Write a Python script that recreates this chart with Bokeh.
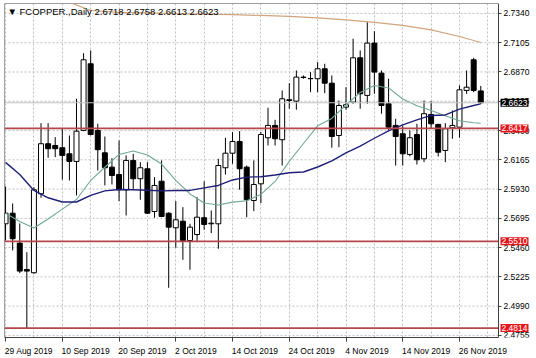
from bokeh.plotting import figure
from bokeh.models import (Range1d, FixedTicker, Label, Span, ColumnDataSource,
                          PrintfTickFormatter, LinearAxis)
from bokeh.embed import file_html
from bokeh.resources import INLINE

# ---------------- data ----------------
header_text = "\u25BC FCOPPER.,Daily  2.6718 2.6758 2.6613 2.6623"

date_labels = ["29 Aug 2019", "10 Sep 2019", "20 Sep 2019", "2 Oct 2019", "14 Oct 2019",
               "24 Oct 2019", "4 Nov 2019", "14 Nov 2019", "26 Nov 2019"]
date_label_bars = [0, 8, 16, 24, 32, 40, 48, 56, 64]

opens = [2.5651, 2.5736, 2.5496, 2.5284, 2.5258, 2.5892, 2.6294, 2.6280, 2.6262, 2.6213,
         2.6152, 2.6401, 2.6936, 2.6401, 2.6221, 2.6106, 2.6047, 2.5924, 2.6160, 2.6013,
         2.6093, 2.5750, 2.5993, 2.5736, 2.5619, 2.5672, 2.5517, 2.5565, 2.5700, 2.5651,
         2.5651, 2.6101, 2.6218, 2.6312, 2.6106, 2.5838, 2.5972, 2.6342, 2.6441, 2.6326,
         2.6647, 2.6636, 2.6829, 2.6816, 2.6816, 2.6896, 2.6780, 2.6360, 2.6588, 2.6628,
         2.6984, 2.6682, 2.7102, 2.6861, 2.6615, 2.6441, 2.6374, 2.6208, 2.6368, 2.6173,
         2.6529, 2.6449, 2.6240, 2.6422, 2.6427, 2.6722, 2.6968, 2.6718]
highs = [2.5951, 2.5814, 2.5654, 2.5423, 2.5945, 2.6459, 2.6459, 2.6347, 2.6414, 2.6360,
         2.6655, 2.7021, 2.7043, 2.6454, 2.6352, 2.6178, 2.6320, 2.6200, 2.6213, 2.6146,
         2.6146, 2.6026, 2.6160, 2.5744, 2.5833, 2.5785, 2.5651, 2.5865, 2.5993, 2.5758,
         2.6173, 2.6342, 2.6387, 2.6395, 2.6119, 2.6160, 2.6387, 2.6583, 2.6486, 2.6722,
         2.6780, 2.6882, 2.6842, 2.6869, 2.6949, 2.6936, 2.6842, 2.6641, 2.6748, 2.7137,
         2.7043, 2.7270, 2.7198, 2.6882, 2.6816, 2.6494, 2.6441, 2.6401, 2.6454, 2.6641,
         2.6636, 2.6454, 2.6459, 2.6561, 2.6762, 2.6882, 2.6984, 2.6758]
lows = [2.5517, 2.5437, 2.5255, 2.4814, 2.5250, 2.5860, 2.6181, 2.6186, 2.6005, 2.5999,
        2.5879, 2.6395, 2.6360, 2.6079, 2.5959, 2.5967, 2.5833, 2.5718, 2.5932, 2.5844,
        2.5732, 2.5700, 2.5704, 2.5137, 2.5459, 2.5362, 2.5282, 2.5504, 2.5603, 2.5576,
        2.5451, 2.6047, 2.6133, 2.5924, 2.5704, 2.5753, 2.5817, 2.6280, 2.6280, 2.6119,
        2.6575, 2.6567, 2.6816, 2.6708, 2.6708, 2.6700, 2.6262, 2.6266, 2.6567, 2.6615,
        2.6575, 2.6615, 2.6695, 2.6535, 2.6401, 2.6119, 2.6119, 2.6192, 2.6127, 2.6146,
        2.6414, 2.6192, 2.6146, 2.6334, 2.6342, 2.6695, 2.6708, 2.6613]
closes = [2.5736, 2.5531, 2.5271, 2.5271, 2.5924, 2.6294, 2.6254, 2.6254, 2.6200, 2.6152,
          2.6395, 2.6968, 2.6368, 2.6246, 2.6101, 2.6039, 2.5924, 2.6160, 2.6013, 2.6101,
          2.5736, 2.5959, 2.5710, 2.5624, 2.5683, 2.5517, 2.5624, 2.5704, 2.5646, 2.5656,
          2.6119, 2.6218, 2.6312, 2.6093, 2.5844, 2.5967, 2.6368, 2.6441, 2.6334, 2.6655,
          2.6641, 2.6829, 2.6826, 2.6818, 2.6896, 2.6780, 2.6352, 2.6601, 2.6607, 2.6984,
          2.6695, 2.7102, 2.6869, 2.6601, 2.6427, 2.6352, 2.6213, 2.6342, 2.6165, 2.6535,
          2.6454, 2.6226, 2.6414, 2.6441, 2.6727, 2.6748, 2.6722, 2.6623]

ma_fast_bars = [0, 2, 4, 6, 8, 10, 12, 14, 16, 18, 20, 22, 24, 26, 28, 30, 32, 34,
                36, 38, 40, 42, 44, 46, 48, 50, 52, 54, 56, 58, 60, 62, 64, 66, 67]
ma_fast = [2.5736, 2.5670, 2.5618, 2.5690, 2.5769, 2.5846, 2.5999, 2.6105, 2.6208, 2.6236,
           2.6204, 2.6131, 2.5999, 2.5891, 2.5818, 2.5802, 2.5825, 2.5836, 2.5887, 2.5991,
           2.6152, 2.6296, 2.6438, 2.6497, 2.6605, 2.6706, 2.6762, 2.6742, 2.6653, 2.6599,
           2.6561, 2.6519, 2.6478, 2.6462, 2.6459]
ma_mid_bars = ma_fast_bars
ma_mid = [2.6144, 2.6047, 2.5919, 2.5860, 2.5826, 2.5826, 2.5879, 2.5915, 2.5927, 2.5924,
          2.5920, 2.5915, 2.5919, 2.5919, 2.5939, 2.5959, 2.6003, 2.6026, 2.6029, 2.6043,
          2.6061, 2.6067, 2.6107, 2.6156, 2.6221, 2.6274, 2.6338, 2.6398, 2.6445, 2.6485,
          2.6521, 2.6525, 2.6572, 2.6601, 2.6614]
ma_slow_bars = [0, 4, 8, 12, 16, 20, 24, 28, 32, 36, 40, 44, 48, 52, 56, 60, 64, 67]
ma_slow = [2.7565, 2.7509, 2.7452, 2.7364, 2.7348, 2.7344, 2.7338, 2.7334, 2.7330, 2.7324,
           2.7316, 2.7304, 2.7288, 2.7268, 2.7244, 2.7208, 2.7155, 2.7107]

price_ticks = [2.7340, 2.7105, 2.6870, 2.6635, 2.6400, 2.6165, 2.5930, 2.5695,
               2.5460, 2.5225, 2.4990, 2.4755]
level_lines = [2.6417, 2.5510, 2.4814]
last_price = 2.6623

# ---------------- layout ----------------
W, H = 536, 358
FL, FT, FR, FB = 4, 3, 498, 337          # chart box edges in canvas pixels
X0, XR = -0.15, 69.5                     # bar range shown inside the chart box
Y0, Y1 = 2.4738, 2.7420
px_per_bar = (FR - FL) / (XR - X0)
px_per_price = (FB - FT) / (Y1 - Y0)
XE = X0 + (W - FL) / px_per_bar          # frame runs on to the canvas edge (price scale strip)
FONT = "Liberation Sans"
FS = "8.5px"
GRID = "#c0c0c0"
FRAME = "#404040"


def cx(px):
    return X0 + (px - FL) / px_per_bar


def cy(py):
    return Y1 - (py - FT) / px_per_price


p = figure(width=W, height=H, x_range=Range1d(X0, XE), y_range=Range1d(Y0, Y1),
           output_backend="svg", toolbar_location=None, y_axis_location=None,
           min_border_left=FL, min_border_top=FT, min_border_right=0,
           min_border_bottom=H - FB)
p.background_fill_color = "white"
p.border_fill_color = "white"
p.outline_line_color = None

# grids: vertical via Grid, horizontal as dashed segments ending at the chart box
p.xgrid.ticker = FixedTicker(ticks=list(range(0, 69, 4)))
p.xgrid.grid_line_color = GRID
p.xgrid.grid_line_dash = "2 2"
p.ygrid.visible = False
p.segment(x0=[X0] * len(price_ticks), x1=[XR] * len(price_ticks), y0=price_ticks,
          y1=price_ticks, line_color=GRID, line_dash="2 2", line_width=1)

# chart box borders (left, right, top); bottom is the x axis line
p.add_layout(Span(location=X0, dimension="height", line_color=FRAME, line_width=1))
p.add_layout(Span(location=XR, dimension="height", line_color=FRAME, line_width=1))
p.segment(x0=[X0], x1=[XR], y0=[Y1], y1=[Y1], line_color=FRAME, line_width=1)

# x axis: labels left-aligned at their bar tick
char_w = {" ": 0.278, ".": 0.278, "A": 0.667, "S": 0.667, "O": 0.778, "N": 0.722,
          "c": 0.5, "t": 0.278, "v": 0.5}
fs_px = 8.5
centers = []
overrides = {}
for lbl, b in zip(date_labels, date_label_bars):
    wpx = sum(char_w.get(ch, 0.556) for ch in lbl) * fs_px
    c = round(b + (wpx / 2) / px_per_bar - 0.1, 2)
    centers.append(c)
    overrides[c] = lbl
xa = p.xaxis[0]
xa.ticker = FixedTicker(ticks=centers, minor_ticks=date_label_bars)
xa.major_label_overrides = overrides
xa.bounds = (X0, XR)
xa.major_tick_out = 0
xa.major_tick_in = 0
xa.minor_tick_out = 4
xa.minor_tick_in = 0
xa.minor_tick_line_color = FRAME
xa.axis_line_color = FRAME
xa.major_label_standoff = 4
xa.major_label_text_font = FONT
xa.major_label_text_font_size = FS
xa.major_label_text_color = "black"

# price scale: axis pinned to the chart box's right edge
ya = LinearAxis(ticker=FixedTicker(ticks=price_ticks),
                formatter=PrintfTickFormatter(format="%.4f"), fixed_location=XR)
ya.major_tick_out = 3
ya.major_tick_in = 0
ya.minor_tick_line_color = None
ya.axis_line_color = None
ya.major_tick_line_color = FRAME
ya.major_label_standoff = 2
ya.major_label_text_font = FONT
ya.major_label_text_font_size = FS
ya.major_label_text_color = "black"
p.add_layout(ya, "right")

# candles
n = len(opens)
xs = list(range(n))
tops = [max(o, c) for o, c in zip(opens, closes)]
bottoms = [min(o, c) for o, c in zip(opens, closes)]
fills = ["white" if c >= o else "black" for o, c in zip(opens, closes)]
src = ColumnDataSource(dict(x=xs, high=highs, low=lows, top=tops, bottom=bottoms, fill=fills))
p.segment(x0="x", y0="low", x1="x", y1="high", source=src, line_color="black", line_width=1)
p.vbar(x="x", width=0.7, top="top", bottom="bottom", source=src, fill_color="fill",
       line_color="black", line_width=1)

# moving averages
p.line(ma_slow_bars, ma_slow, line_color="#d1a47c", line_width=1.2)
p.line(ma_fast_bars, ma_fast, line_color="#6fa898", line_width=1.1)
p.line(ma_mid_bars, ma_mid, line_color="#1f1f7a", line_width=1.4)

# horizontal levels (ending at the chart box)
p.segment(x0=[X0], x1=[XR], y0=[last_price], y1=[last_price], line_color="#c0c0c0",
          line_width=1)
p.segment(x0=[X0] * len(level_lines), x1=[XR] * len(level_lines), y0=level_lines,
          y1=level_lines, line_color="#b5474b", line_width=1.8)

# header
p.add_layout(Label(x=cx(7), y=cy(11), text=header_text, text_font=FONT,
                   text_font_size="9.5px", text_color="black", text_baseline="middle",
                   text_align="left"))

# price boxes on the price scale
box_x = cx(500)
p.add_layout(Label(x=box_x, y=last_price, text=f"{last_price:.4f}", text_font=FONT,
                   text_font_size=FS, text_color="white", text_baseline="middle",
                   text_align="left", background_fill_color="black", padding=1))
for lv in level_lines:
    p.add_layout(Label(x=box_x, y=lv, text=f"{lv:.4f}", text_font=FONT,
                       text_font_size=FS, text_color="white", text_baseline="middle",
                       text_align="left", background_fill_color="#e3161c", padding=1))

open("out.html", "w").write(file_html(p, INLINE))
